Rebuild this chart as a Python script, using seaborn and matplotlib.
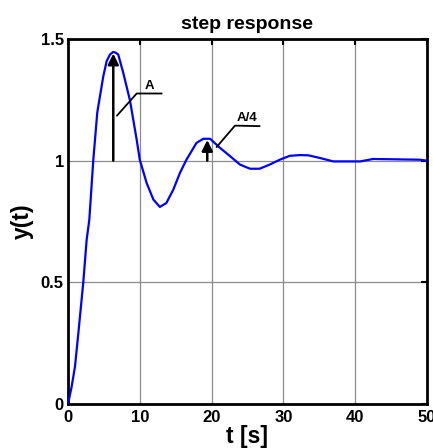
import matplotlib
matplotlib.use("Agg")
import matplotlib.pyplot as plt
import seaborn as sns
import pandas as pd

t_values = [0, 0.5, 0.97, 1.44, 2.14, 2.6, 2.97, 3.53, 4.08, 4.92, 5.39, 5.85, 6.31, 6.69, 7.0,
            7.7, 8.64, 9.57, 10.0, 10.96, 11.9, 12.8, 13.7, 14.67, 15.6, 16.5, 17.9,
            18.85, 19.8, 21.2, 22.6, 23.96, 25.35, 26.7, 28.1, 29.5, 30.9, 32.3, 33.5,
            35.1, 36.95, 40.7, 42.5, 49.0, 50.0]
y_values = [0, 0.07, 0.153, 0.29, 0.503, 0.675, 0.757, 1.004, 1.198, 1.347, 1.409, 1.436, 1.447, 1.443, 1.436,
            1.361, 1.247, 1.086, 1.004, 0.908, 0.84, 0.81, 0.826, 0.881, 0.95, 1.004, 1.073,
            1.09, 1.09, 1.052, 1.018, 0.984, 0.967, 0.967, 0.984, 1.004, 1.02, 1.023, 1.022,
            1.011, 0.997, 0.997, 1.007, 1.004, 1.0]
x_ticks = [0, 10, 20, 30, 40, 50]
y_ticks = [0, 0.5, 1, 1.5]
y_tick_labels = ["0", "0.5", "1", "1.5"]

sns.set_style("white")
plt.rcParams['font.family'] = ['Liberation Sans', 'DejaVu Sans']
plt.rcParams['font.weight'] = 'bold'
plt.rcParams['text.color'] = 'black'
plt.rcParams['axes.labelcolor'] = 'black'
plt.rcParams['xtick.color'] = 'black'
plt.rcParams['ytick.color'] = 'black'

df = pd.DataFrame({"t": t_values, "y": y_values})

fig = plt.figure(figsize=(4.33, 4.48), dpi=100)
ax = fig.add_axes([0.157, 0.098, 0.829, 0.815])

sns.lineplot(data=df, x="t", y="y", ax=ax, color="#0000ff", linewidth=1.6, zorder=3)

ax.set_xlim(0, 50)
ax.set_ylim(0, 1.5)
ax.set_xticks(x_ticks)
ax.set_yticks(y_ticks)
ax.set_yticklabels(y_tick_labels)
ax.grid(True, color="#8c8c8c", linewidth=0.9)
ax.tick_params(direction="in", length=4, width=1.5, top=True, right=True,
               labelsize=12, colors="black")
ax.tick_params(axis="x", pad=4)
ax.tick_params(axis="y", pad=3)
for lab in ax.get_xticklabels() + ax.get_yticklabels():
    lab.set_fontweight("bold")
for s in ax.spines.values():
    s.set_linewidth(2.0)
    s.set_color("black")

ax.set_title("step response", fontsize=14, fontweight="bold", pad=7, color="black")
ax.set_xlabel("t [s]", fontsize=16.5, fontweight="bold", labelpad=0)
ax.set_ylabel("y(t)", fontsize=16.5, fontweight="bold", labelpad=5)

arrow_kw = dict(arrowstyle="-|>", color="black", lw=1.8, mutation_scale=16,
                shrinkA=0, shrinkB=0)
ax.annotate("", xy=(6.31, 1.44), xytext=(6.31, 1.0), arrowprops=arrow_kw, zorder=4)
ax.annotate("", xy=(19.4, 1.085), xytext=(19.4, 1.0), arrowprops=arrow_kw, zorder=4)

ax.plot([6.82, 9.57, 13.05], [1.185, 1.276, 1.276], color="black", lw=1.3, zorder=4)
ax.text(11.4, 1.305, "A", fontsize=9.5, fontweight="bold", ha="center", va="center")
ax.plot([20.7, 23.26, 26.7], [1.056, 1.144, 1.142], color="black", lw=1.3, zorder=4)
ax.text(24.9, 1.175, "A/4", fontsize=9.5, fontweight="bold", ha="center", va="center")

fig.savefig("out.png", dpi=100)
